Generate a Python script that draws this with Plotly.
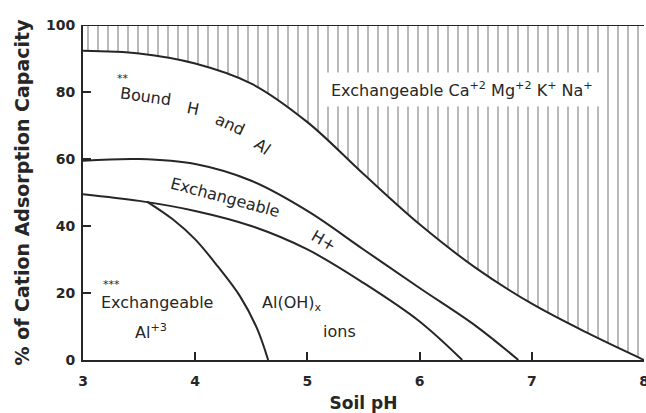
import plotly.graph_objects as go

# ---- data (pH, % of cation adsorption capacity) ----
full_x = [3, 8]
full_y = [100, 100]

bases_ph = [3.0, 3.5, 4.0, 4.5, 5.0, 5.5, 6.0, 6.5, 7.0, 7.5, 8.0]
bases_lower = [92.3, 91.5, 88.5, 82.5, 71.0, 55.5, 40.5, 27.5, 16.8, 8.0, 0.0]

hplus_top_ph = [3.0, 3.5, 4.0, 4.5, 5.0, 5.5, 6.0, 6.5, 6.88]
hplus_top = [59.5, 60.0, 58.5, 53.5, 44.5, 33.0, 21.5, 10.2, 0.0]

hplus_bottom_ph = [3.0, 3.5, 4.0, 4.5, 5.0, 5.5, 6.0, 6.38]
hplus_bottom = [49.5, 47.5, 44.5, 40.0, 33.0, 23.0, 11.5, 0.0]

al_ph = [3.57, 3.8, 4.0, 4.2, 4.4, 4.55, 4.65]
al_top = [47.3, 42.0, 36.0, 28.0, 19.0, 9.5, 0.0]

x_ticks = [3, 4, 5, 6, 7, 8]
y_ticks = [0, 20, 40, 60, 80, 100]

INK = "#262626"
FONT = "DejaVu Sans"

fig = go.Figure()

fig.add_trace(go.Scatter(x=full_x, y=full_y, mode="lines",
                         line=dict(color=INK, width=2), hoverinfo="skip"))
fig.add_trace(go.Scatter(x=bases_ph, y=bases_lower, mode="lines",
                         line=dict(color=INK, width=2, shape="spline"),
                         fill="tonexty", fillcolor="rgba(255,255,255,0)",
                         fillpattern=dict(shape="|", size=10, solidity=0.15,
                                          fgcolor="#444444", bgcolor="white"),
                         hoverinfo="skip"))
for xs, ys in [(hplus_top_ph, hplus_top), (hplus_bottom_ph, hplus_bottom), (al_ph, al_top)]:
    fig.add_trace(go.Scatter(x=xs, y=ys, mode="lines",
                             line=dict(color=INK, width=2, shape="spline"),
                             hoverinfo="skip"))

def label(x, y, text, size=16, angle=0, **kw):
    fig.add_annotation(x=x, y=y, xref="x", yref="y", text=text, showarrow=False,
                       textangle=angle, font=dict(family=FONT, size=size, color=INK), **kw)

label(6.38, 80.6, "Exchangeable Ca<sup>+2</sup> Mg<sup>+2</sup> K<sup>+</sup> Na<sup>+</sup>",
      size=16, bgcolor="white", borderpad=6)
label(3.36, 84.0, "**", size=11)
label(3.56, 78.6, "Bound", angle=8)
label(3.98, 75.2, "H", angle=12)
label(4.31, 70.3, "and", angle=25)
label(4.60, 63.8, "Al", angle=35)
label(4.27, 48.6, "Exchangeable", angle=15)
label(5.14, 35.6, "H+", angle=30)
label(3.25, 22.6, "***", size=11)
label(3.66, 17.3, "Exchangeable")
label(3.61, 8.6, "Al<sup>+3</sup>")
label(4.86, 16.8, "Al(OH)<sub>x</sub>")
label(5.29, 8.4, "ions")

axis_common = dict(showline=True, linecolor=INK, linewidth=2, ticks="inside",
                   ticklen=8, tickwidth=2, tickcolor=INK, showgrid=False, zeroline=False,
                   automargin=False, ticklabeloverflow="allow",
                   tickfont=dict(family=FONT, size=14, color=INK, weight="bold"))
fig.update_xaxes(range=[3, 8], tickvals=x_ticks, ticklabelstandoff=7, **axis_common,
                 title=dict(text="Soil pH", font=dict(family=FONT, size=17, color=INK, weight="bold"),
                            standoff=9))
fig.update_yaxes(range=[0, 100], tickvals=y_ticks, ticklabelstandoff=3, **axis_common,
                 title=dict(text="% of Cation Adsorption Capacity",
                            font=dict(family=FONT, size=19, color=INK, weight="bold"), standoff=11))

fig.update_layout(width=646, height=413, margin=dict(l=83, r=2, t=25, b=53),
                  paper_bgcolor="white", plot_bgcolor="white", showlegend=False)

fig.write_html("out.html", config={"displayModeBar": False, "staticPlot": True},
               post_script="document.documentElement.style.margin='0';"
                           "document.body.style.margin='0';"
                           "document.body.style.overflow='hidden';")
